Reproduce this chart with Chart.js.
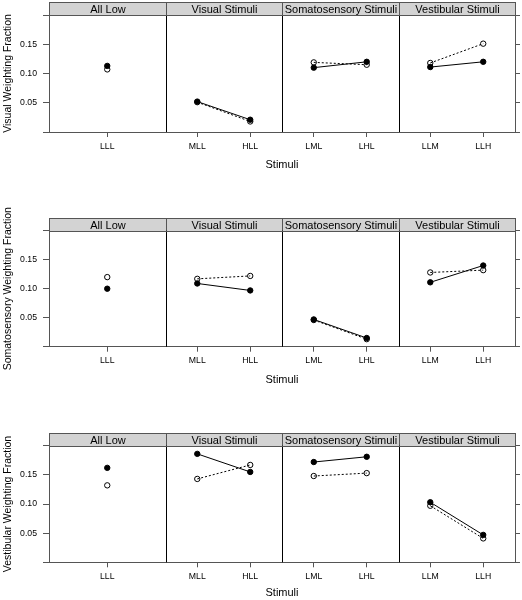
<!DOCTYPE html>
<html>
<head>
<meta charset="utf-8">
<script src="https://cdn.jsdelivr.net/npm/chart.js@4.4.0/dist/chart.umd.min.js"></script>
<style>
html, body { margin: 0; padding: 0; background: #fff; overflow: hidden; width: 522px; height: 600px; }
.row { position: absolute; left: 0; width: 522px; }
</style>
</head>
<body>
<div class="row" style="top:0px;height:175px"><canvas id="c1"></canvas></div>
<div class="row" style="top:200px;height:190px"><canvas id="c2"></canvas></div>
<div class="row" style="top:400px;height:200px"><canvas id="c3"></canvas></div>
<script>
// panels and stimuli (same for all three rows)
const panelNames = ['All Low', 'Visual Stimuli', 'Somatosensory Stimuli', 'Vestibular Stimuli'];
const stimuli = [['LLL'], ['MLL', 'HLL'], ['LML', 'LHL'], ['LLM', 'LLH']];
const yTicks = [0, 0.05, 0.10, 0.15, 0.20];

// values in order LLL, MLL, HLL, LML, LHL, LLM, LLH
const visualFilled = [0.113, 0.052, 0.021, 0.110, 0.120, 0.111, 0.120];
const visualOpen   = [0.107, 0.051, 0.018, 0.119, 0.115, 0.118, 0.151];
const somatoFilled = [0.100, 0.109, 0.097, 0.047, 0.015, 0.111, 0.140];
const somatoOpen   = [0.120, 0.117, 0.122, 0.046, 0.013, 0.128, 0.132];
const vestibFilled = [0.162, 0.186, 0.155, 0.172, 0.181, 0.103, 0.047];
const vestibOpen   = [0.132, 0.143, 0.167, 0.148, 0.153, 0.097, 0.041];

const W = 2.2; // width of one panel on the x scale
const FONT = "'Liberation Sans', Arial, sans-serif";
const BORDER = '#555';

Chart.defaults.font.family = FONT;
Chart.defaults.color = '#000';

// x position of every stimulus (lattice-like spacing inside a panel)
let tickPos = [], tickLabels = [];
stimuli.forEach((list, p) => {
    list.forEach((s, i) => {
        tickPos.push(list.length === 1 ? p * W + W / 2 : p * W + 0.6 + i);
        tickLabels.push(s);
    });
});

// build points with a gap between panels so lines stay inside one panel
function toPoints(values) {
    let pts = [], k = 0;
    stimuli.forEach((list, p) => {
        list.forEach(() => { pts.push({ x: tickPos[k], y: values[k] }); k++; });
        pts.push({ x: (p + 1) * W, y: null });
    });
    return pts;
}

// draws strips, panel dividers and top border
const latticePlugin = {
    id: 'lattice',
    afterDraw(chart) {
        const ctx = chart.ctx;
        const { top, bottom, left, right } = chart.chartArea;
        const xs = chart.scales.x;
        const stripH = 13;
        ctx.save();
        ctx.lineWidth = 1;
        ctx.strokeStyle = BORDER;
        panelNames.forEach((name, p) => {
            let x0 = Math.round(xs.getPixelForValue(p * W)) + 0.5;
            let x1 = Math.round(xs.getPixelForValue((p + 1) * W)) + 0.5;
            let y0 = Math.round(top - stripH) + 0.5;
            ctx.fillStyle = '#d3d3d3';
            ctx.fillRect(x0, y0, x1 - x0, stripH);
            ctx.strokeRect(x0, y0, x1 - x0, stripH);
            ctx.fillStyle = '#000';
            ctx.font = '11px ' + FONT;
            ctx.textAlign = 'center';
            ctx.textBaseline = 'middle';
            ctx.fillText(name, (x0 + x1) / 2, y0 + stripH / 2 + 0.5);
            if (p > 0) {
                ctx.strokeStyle = '#000';
                ctx.beginPath();
                ctx.moveTo(x0, top);
                ctx.lineTo(x0, bottom);
                ctx.stroke();
                ctx.strokeStyle = BORDER;
            }
        });
        ctx.beginPath();
        ctx.moveTo(left, Math.round(top) + 0.5);
        ctx.lineTo(right, Math.round(top) + 0.5);
        ctx.stroke();
        ctx.restore();
    }
};

function makeChart(id, yTitle, filled, open, padTop, xHeight, titlePad) {
    const yAxis = (side) => ({
        position: side,
        min: 0,
        max: 0.2,
        afterBuildTicks: s => { s.ticks = yTicks.map(v => ({ value: v })); },
        ticks: {
            font: { size: 8.7 },
            color: '#000',
            padding: 6,
            callback: v => (side === 'left' && v > 0.001 && v < 0.199) ? v.toFixed(2) : ''
        },
        grid: { drawOnChartArea: false, tickLength: side === 'left' ? 6 : 5, color: BORDER },
        border: { color: BORDER },
        title: side === 'left'
            ? { display: true, text: yTitle, font: { size: 10.5 }, padding: { top: 2, bottom: 0 } }
            : { display: false },
        afterFit: s => { s.width = side === 'left' ? 49 : 7; }
    });

    new Chart(document.getElementById(id), {
        type: 'line',
        data: {
            datasets: [{
                data: toPoints(filled),
                borderColor: '#000',
                backgroundColor: '#000',
                borderWidth: 1,
                pointRadius: 2.7,
                pointBorderWidth: 1,
                spanGaps: false,
                yAxisID: 'y'
            }, {
                data: toPoints(open),
                borderColor: '#000',
                backgroundColor: 'rgba(0,0,0,0)',
                borderWidth: 1,
                borderDash: [2, 2],
                pointRadius: 2.7,
                pointBorderWidth: 1,
                spanGaps: false,
                yAxisID: 'y'
            }]
        },
        options: {
            responsive: true,
            maintainAspectRatio: false,
            animation: false,
            layout: { padding: { top: padTop, left: 0, right: 0, bottom: 0 } },
            plugins: { legend: { display: false }, tooltip: { enabled: false } },
            scales: {
                x: {
                    type: 'linear',
                    min: 0,
                    max: W * panelNames.length,
                    afterBuildTicks: s => { s.ticks = tickPos.map(v => ({ value: v })); },
                    ticks: {
                        autoSkip: false,
                        maxRotation: 0,
                        font: { size: 8.7 },
                        color: '#000',
                        padding: 4,
                        callback: (v, i) => tickLabels[i]
                    },
                    grid: { drawOnChartArea: false, tickLength: 5, color: BORDER },
                    border: { color: BORDER },
                    title: { display: true, text: 'Stimuli', font: { size: 11 }, padding: { top: 0, bottom: titlePad } },
                    afterFit: s => { s.height = xHeight; }
                },
                y: yAxis('left'),
                y2: yAxis('right')
            }
        },
        plugins: [latticePlugin]
    });
}

makeChart('c1', 'Visual Weighting Fraction', visualFilled, visualOpen, 15, 43, 3.4);
makeChart('c2', 'Somatosensory Weighting Fraction', somatoFilled, somatoOpen, 30.7, 43.3, 3.4);
makeChart('c3', 'Vestibular Weighting Fraction', vestibFilled, vestibOpen, 45.7, 37.7, 0.4);
</script>
</body>
</html>
